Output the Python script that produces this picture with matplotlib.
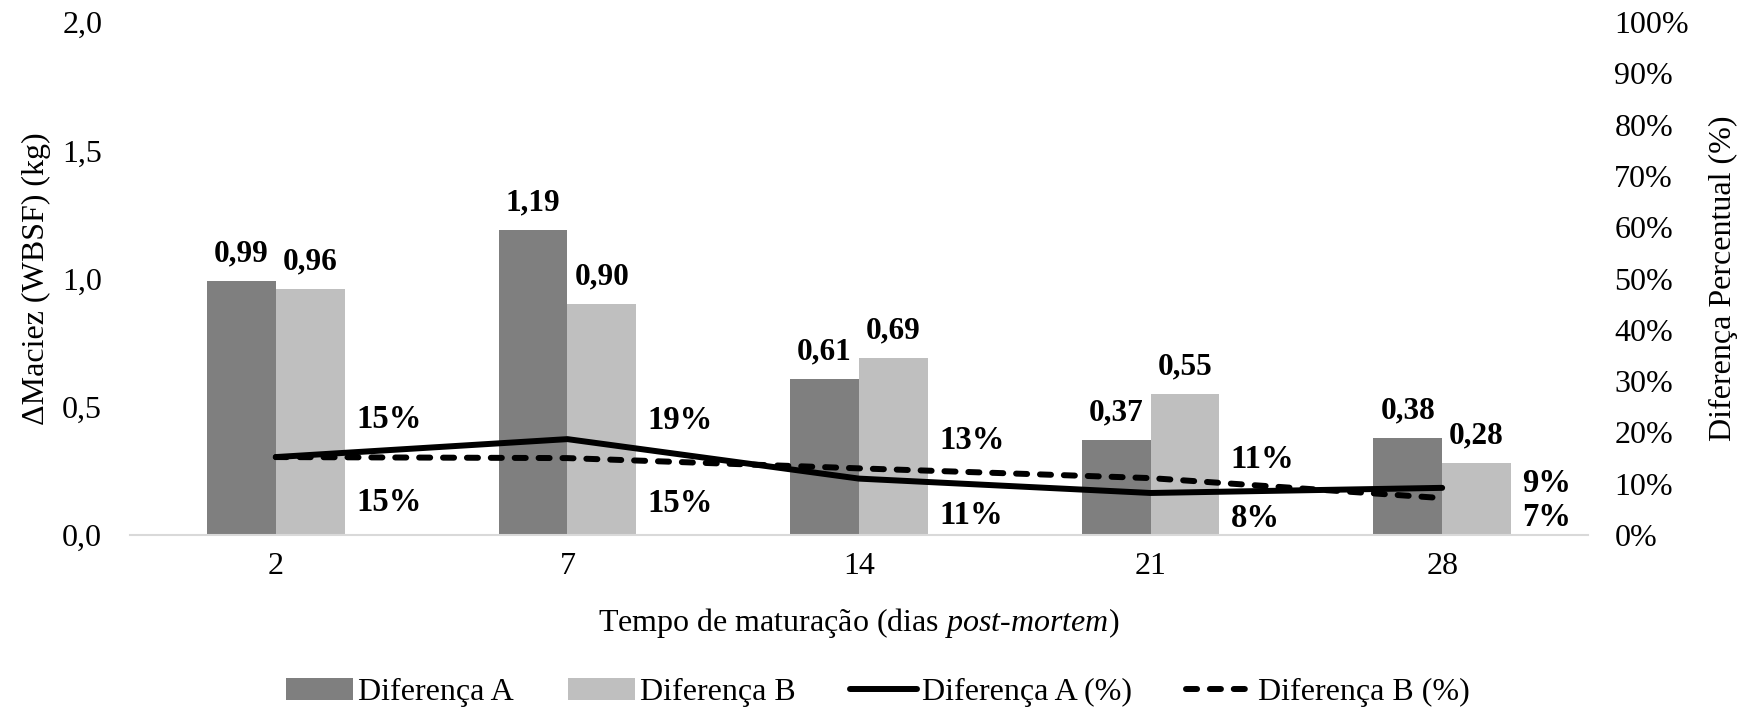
import matplotlib
matplotlib.use("Agg")
import matplotlib.pyplot as plt
import numpy as np
from matplotlib.ticker import FuncFormatter, MultipleLocator

plt.rcParams['font.family'] = ['Liberation Serif', 'DejaVu Serif']
plt.rcParams['mathtext.fontset'] = 'custom'
plt.rcParams['mathtext.rm'] = 'Liberation Serif'
plt.rcParams['mathtext.it'] = 'Liberation Serif:italic'

# ---- data ----
categories = ['2', '7', '14', '21', '28']
diff_a = [0.99, 1.19, 0.61, 0.37, 0.38]
diff_b = [0.96, 0.90, 0.69, 0.55, 0.28]
pct_a = [0.152, 0.187, 0.11, 0.082, 0.092]
pct_b = [0.152, 0.15, 0.13, 0.111, 0.072]
pct_labels_a = ['15%', '19%', '11%', '8%', '9%']
pct_labels_b = ['15%', '15%', '13%', '11%', '7%']

# layout of the percentage labels (axis fraction), as placed in the original
label_y_a = [0.225, 0.224, 0.039, 0.033, 0.100]
label_y_b = [0.063, 0.062, 0.185, 0.148, 0.035]

col_a = '#7F7F7F'
col_b = '#BFBFBF'
FS = 23

fig = plt.figure(figsize=(17.45, 7.13), dpi=100)
ax = fig.add_axes([0.0745, 0.2496, 0.8355, 0.7194])
ax2 = ax.twinx()

idx = np.arange(len(categories))
w = 0.236
bars_a = ax.bar(idx - w / 2, diff_a, width=w, color=col_a, zorder=2)
bars_b = ax.bar(idx + w / 2, diff_b, width=w, color=col_b, zorder=2)

def comma(v, pos=None):
    return f'{v:.1f}'.replace('.', ',')

for bars, vals in ((bars_a, diff_a), (bars_b, diff_b)):
    for b, v in zip(bars, vals):
        ax.annotate(f'{v:.2f}'.replace('.', ','),
                    xy=(b.get_x() + b.get_width() / 2, v),
                    xytext=(0, 14), textcoords='offset points',
                    ha='center', va='baseline', fontsize=22.5, fontweight='bold')

ax.set_xlim(-0.5, len(categories) - 0.5)
ax.set_ylim(0, 2.0)
ax.yaxis.set_major_locator(MultipleLocator(0.5))
ax.yaxis.set_major_formatter(FuncFormatter(comma))
ax.set_xticks(idx)
ax.set_xticklabels(categories)
ax.tick_params(axis='both', length=0, labelsize=FS)
ax.tick_params(axis='y', pad=20)
ax.tick_params(axis='x', pad=12)
for s in ['top', 'right', 'left']:
    ax.spines[s].set_visible(False)
ax.spines['bottom'].set_color('#D9D9D9')
ax.spines['bottom'].set_linewidth(1.5)
ax.set_ylabel('ΔMaciez (WBSF) (kg)', fontsize=FS)
ax.yaxis.set_label_coords(-0.054, 0.5)
ax.set_xlabel('Tempo de maturação (dias $\\mathit{post}$-$\\mathit{mortem}$)', fontsize=FS, labelpad=18)

line_a, = ax2.plot(idx, pct_a, color='black', lw=4.3, solid_capstyle='round',
                   solid_joinstyle='round', zorder=3)
line_b, = ax2.plot(idx, pct_b, color='black', lw=4.3, linestyle=(0, (1.85, 2.15)),
                   dash_capstyle='round', zorder=3)
ax2.set_ylim(0, 1.0)
ax2.yaxis.set_major_locator(MultipleLocator(0.1))
ax2.yaxis.set_major_formatter(FuncFormatter(lambda v, p: f'{v*100:.0f}%'))
ax2.tick_params(axis='y', length=0, labelsize=FS, pad=19)
for s in ['top', 'right', 'left', 'bottom']:
    ax2.spines[s].set_visible(False)
ax2.set_ylabel('Diferença Percentual (%)', fontsize=FS, rotation=90)
ax2.yaxis.set_label_coords(1.083, 0.5)

for i in idx:
    ax2.text(i + 0.275, label_y_a[i], pct_labels_a[i], ha='left', va='center',
             fontsize=23.5, fontweight='bold')
    ax2.text(i + 0.275, label_y_b[i], pct_labels_b[i], ha='left', va='center',
             fontsize=23.5, fontweight='bold')

fig.legend([bars_a, bars_b, line_a, line_b],
           ['Diferença A', 'Diferença B', 'Diferença A (%)', 'Diferença B (%)'],
           loc='center', bbox_to_anchor=(0.503, 0.029), ncol=4, frameon=False,
           fontsize=FS, handlelength=2.1, handletextpad=0.15, columnspacing=1.7)

fig.savefig('out.png', dpi=100)
